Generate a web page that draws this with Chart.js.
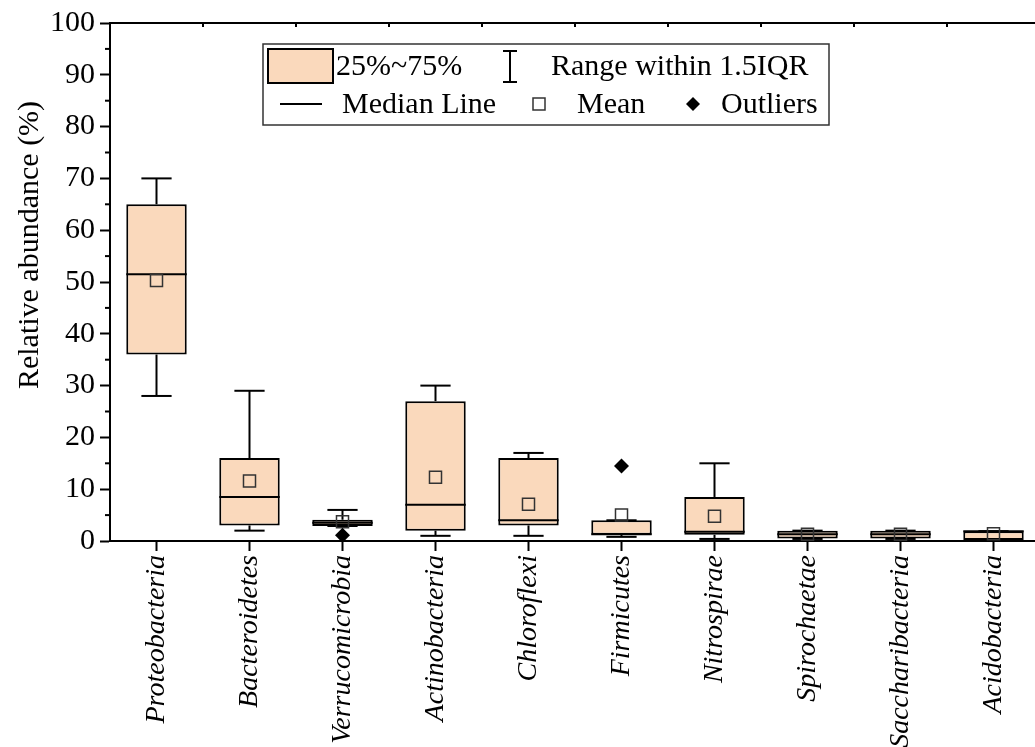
<!DOCTYPE html>
<html>
<head>
<meta charset="utf-8">
<script src="https://cdn.jsdelivr.net/npm/chart.js@4/dist/chart.umd.min.js"></script>
<style>
  html, body { margin: 0; padding: 0; background: #fff; overflow: hidden; }
  #wrap { width: 1050px; height: 747px; position: relative; }
</style>
</head>
<body>
<div id="wrap"><canvas id="myChart"></canvas></div>
<script>
const categories = ['Proteobacteria', 'Bacteroidetes', 'Verrucomicrobia', 'Actinobacteria', 'Chloroflexi',
  'Firmicutes', 'Nitrospirae', 'Spirochaetae', 'Saccharibacteria', 'Acidobacteria'];
const whiskerLow  = [28, 2, 2.9, 1.0, 1.0, 0.8, 0.4, 0.4, 0.4, 0.2];
const q1          = [36, 3, 2.9, 2, 3, 1.2, 1.2, 0.5, 0.5, 0.2];
const median      = [51.5, 8.5, 3.5, 7, 4, 1.3, 1.8, 1.3, 1.3, 1.9];
const q3          = [65, 16, 4.1, 27, 16, 4, 8.5, 2, 2, 1.9];
const whiskerHigh = [70, 29, 6, 30, 17, 4, 15, 2, 2, 1.9];
const means       = [50.3, 11.6, 3.7, 12.3, 7.1, 5.0, 4.8, 1.3, 1.3, 1.4];
const outliers    = [null, null, 1.1, null, null, 14.5, null, null, null, null];
const yTicksMajor = [0, 10, 20, 30, 40, 50, 60, 70, 80, 90, 100];
const yTitle = 'Relative abundance (%)';

const SERIF = "'Times New Roman', 'Liberation Serif', serif";
const PEACH = '#FAD9BC';

// moustaches + médiane, dessinées juste après les boîtes
const boxExtras = {
  id: 'boxExtras',
  afterDatasetDraw(chart, args) {
    if (args.index !== 0) return;
    const ctx = chart.ctx;
    const y = chart.scales.y;
    ctx.save();
    ctx.strokeStyle = '#000';
    ctx.lineWidth = 2;
    args.meta.data.forEach((bar, i) => {
      const x = bar.x, w = bar.width;
      const seg = (x1, y1, x2, y2) => { ctx.beginPath(); ctx.moveTo(x1, y1); ctx.lineTo(x2, y2); ctx.stroke(); };
      const yHi = y.getPixelForValue(whiskerHigh[i]);
      const yLo = y.getPixelForValue(whiskerLow[i]);
      seg(x, y.getPixelForValue(q3[i]), x, yHi);
      seg(x, y.getPixelForValue(q1[i]), x, yLo);
      seg(x - w / 4, yHi, x + w / 4, yHi);
      seg(x - w / 4, yLo, x + w / 4, yLo);
      const ym = y.getPixelForValue(median[i]);
      seg(x - w / 2, ym, x + w / 2, ym);
    });
    ctx.restore();
  }
};

// cadre du haut, petites graduations, titre Y, légende
const decor = {
  id: 'decor',
  afterDraw(chart) {
    const ctx = chart.ctx;
    const { left, right, top } = chart.chartArea;
    const y = chart.scales.y;
    const x = chart.scales.x;
    ctx.save();
    ctx.strokeStyle = '#000';
    ctx.lineWidth = 2;
    ctx.beginPath(); ctx.moveTo(left - 1, top); ctx.lineTo(right, top); ctx.stroke();
    // graduations mineures
    for (let v = 5; v < 100; v += 10) {
      const py = y.getPixelForValue(v);
      ctx.beginPath(); ctx.moveTo(left - 5, py); ctx.lineTo(left, py); ctx.stroke();
    }
    // graduations du haut entre catégories
    const step = x.getPixelForValue(1) - x.getPixelForValue(0);
    for (let i = 0; i < categories.length; i++) {
      const px = x.getPixelForValue(i) + step / 2;
      ctx.beginPath(); ctx.moveTo(px, top); ctx.lineTo(px, top + 4); ctx.stroke();
    }

    // titre de l'axe Y
    ctx.save();
    ctx.translate(30, 245);
    ctx.rotate(-Math.PI / 2);
    ctx.fillStyle = '#000';
    ctx.font = '30px ' + SERIF;
    ctx.textAlign = 'center';
    ctx.textBaseline = 'middle';
    ctx.fillText(yTitle, 0, 0);
    ctx.restore();

    // légende
    ctx.lineWidth = 1.5;
    ctx.strokeStyle = '#333';
    ctx.strokeRect(263, 44, 566, 81);
    ctx.fillStyle = PEACH;
    ctx.fillRect(268, 49, 65, 34);
    ctx.strokeStyle = '#000';
    ctx.lineWidth = 2;
    ctx.strokeRect(268, 49, 65, 34);
    ctx.beginPath();
    ctx.moveTo(510, 51); ctx.lineTo(510, 82);
    ctx.moveTo(503, 51); ctx.lineTo(517, 51);
    ctx.moveTo(503, 82); ctx.lineTo(517, 82);
    ctx.moveTo(280, 104); ctx.lineTo(322, 104);
    ctx.stroke();
    ctx.lineWidth = 1.5;
    ctx.strokeStyle = '#333';
    ctx.strokeRect(533, 98, 12, 12);
    ctx.fillStyle = '#000';
    ctx.beginPath();
    ctx.moveTo(693, 97); ctx.lineTo(700, 104); ctx.lineTo(693, 111); ctx.lineTo(686, 104);
    ctx.closePath(); ctx.fill();
    ctx.font = '30px ' + SERIF;
    ctx.textBaseline = 'middle';
    ctx.fillText('25%~75%', 336, 67);
    ctx.fillText('Range within 1.5IQR', 551, 67);
    ctx.fillText('Median Line', 342, 105);
    ctx.fillText('Mean', 577, 105);
    ctx.fillText('Outliers', 721, 105);
    ctx.restore();
  }
};

new Chart(document.getElementById('myChart'), {
  type: 'bar',
  data: {
    labels: categories,
    datasets: [
      {
        label: '25%~75%',
        data: categories.map((_, i) => [q1[i], q3[i]]),
        backgroundColor: PEACH,
        borderColor: '#000',
        borderWidth: 2,
        borderSkipped: false,
        barPercentage: 0.65,
        categoryPercentage: 1,
        order: 2
      },
      {
        type: 'line',
        label: 'Mean',
        data: means,
        showLine: false,
        pointStyle: 'rect',
        pointRadius: 8.5,
        pointBackgroundColor: 'rgba(0,0,0,0)',
        pointBorderColor: '#333',
        pointBorderWidth: 1.5,
        order: 1
      },
      {
        type: 'line',
        label: 'Outliers',
        data: outliers,
        showLine: false,
        pointStyle: 'rectRot',
        pointRadius: 7.5,
        pointBackgroundColor: '#000',
        pointBorderColor: '#000',
        pointBorderWidth: 0,
        order: 0
      }
    ]
  },
  options: {
    responsive: true,
    maintainAspectRatio: false,
    animation: false,
    layout: { padding: { top: 21, right: 5, left: 0, bottom: 0 } },
    plugins: {
      legend: { display: false },
      tooltip: { enabled: false }
    },
    scales: {
      x: {
        offset: true,
        afterFit(scale) { scale.height = 206; },
        grid: { display: true, drawOnChartArea: false, drawTicks: true, tickLength: 10, tickWidth: 2, tickColor: '#000', offset: false },
        border: { display: true, color: '#000', width: 2 },
        ticks: {
          color: '#000',
          minRotation: 90,
          maxRotation: 90,
          autoSkip: false,
          padding: 4,
          font: { family: SERIF, size: 28, style: 'italic' }
        }
      },
      y: {
        min: 0,
        max: 100,
        afterFit(scale) { scale.width = 110; },
        grid: {
          display: true, drawOnChartArea: false, drawTicks: true, tickLength: 10, tickWidth: 2,
          tickColor: c => (yTicksMajor.includes(c.tick.value) ? '#000' : 'rgba(0,0,0,0)')
        },
        border: { display: true, color: '#000', width: 2 },
        ticks: {
          stepSize: 5,
          autoSkip: false,
          color: '#000',
          padding: 5,
          font: { family: SERIF, size: 30 },
          callback: v => (yTicksMajor.includes(v) ? v : '')
        }
      }
    }
  },
  plugins: [boxExtras, decor]
});
</script>
</body>
</html>
